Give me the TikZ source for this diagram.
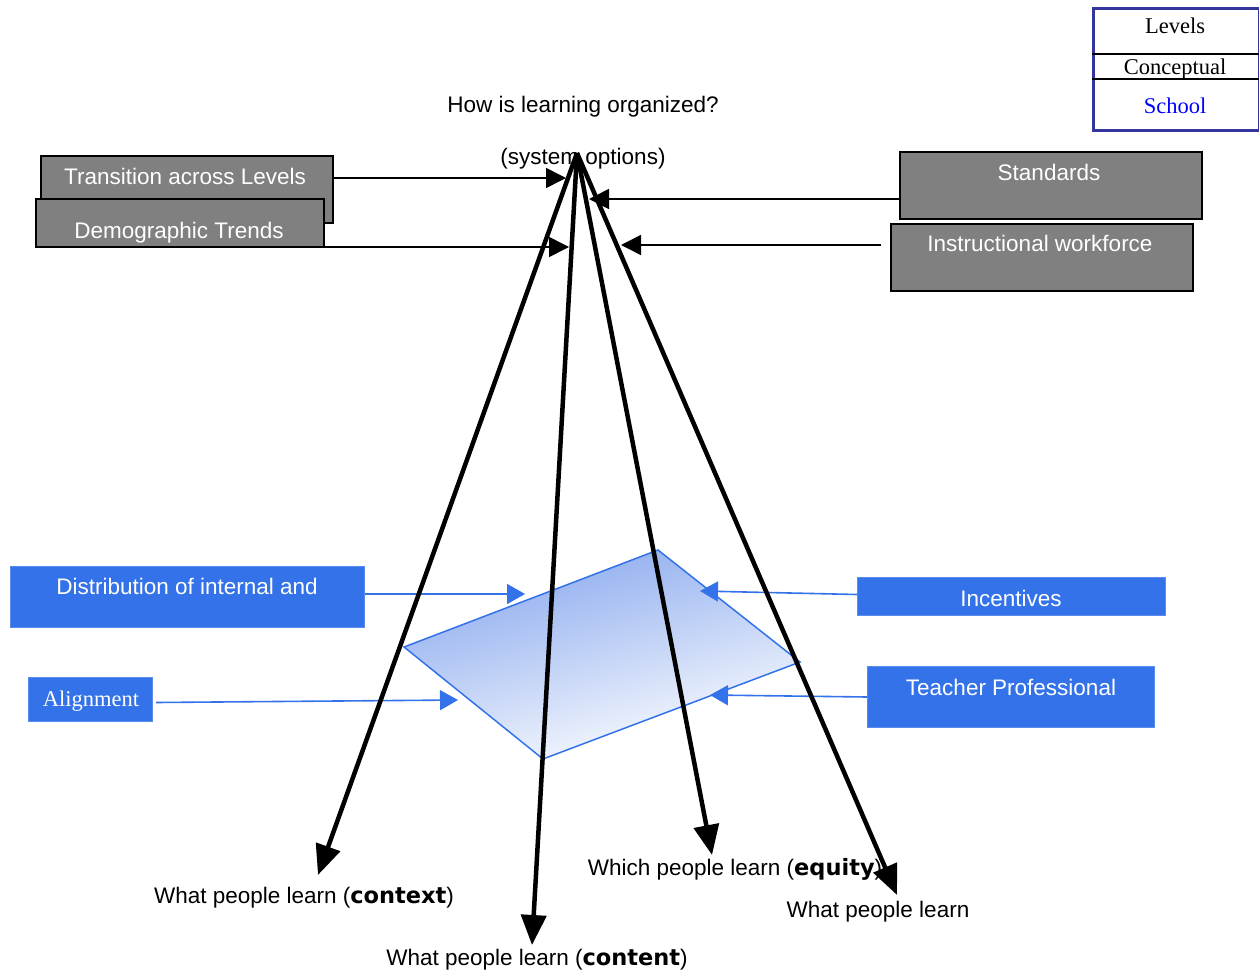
\documentclass[tikz,border=0pt]{standalone}
\usepackage{fontspec}
\setmainfont{Liberation Sans}
\newfontfamily\seriffont{Liberation Serif}
\newfontfamily\heavyfont{DejaVu Sans}
\usetikzlibrary{arrows.meta,calc}
\definecolor{boxgray}{HTML}{808080}
\definecolor{boxblue}{HTML}{3372E8}
\definecolor{boxedge}{HTML}{5A8CEE}
\definecolor{legblue}{HTML}{35359E}
\definecolor{gradtop}{HTML}{88A8EE}
\definecolor{gradmid}{HTML}{9CB5F0}
\definecolor{schoolblue}{HTML}{0000FF}
\newcommand{\hv}[1]{{\heavyfont\bfseries #1}}
\tikzset{
  txt/.style={font=\fontsize{22.5}{27}\selectfont, inner sep=0pt, anchor=base},
  stxt/.style={font=\seriffont\fontsize{22.5}{27}\selectfont, inner sep=0pt, anchor=base},
  wtxt/.style={txt, text=white},
  graybox/.style={draw=black, line width=2pt, fill=boxgray, anchor=north west, inner sep=0pt},
  bluebox/.style={draw=boxedge, line width=1pt, fill=boxblue, anchor=north west, inner sep=0pt},
  thinarr/.style={line width=1.6pt, -{Triangle[length=20pt,width=20pt]}},
  bluearr/.style={draw=boxblue, line width=1.6pt, -{Triangle[length=18pt,width=20pt]}, fill=boxblue},
  bigarr/.style={line width=4.5pt, -{Triangle[length=30pt,width=25pt]}},
}
\begin{document}
\begin{tikzpicture}[x=1pt,y=-1pt]
\useasboundingbox (0,0) rectangle (1259,977);

% legend
\node[draw=legblue, line width=3pt, fill=white, minimum width=166pt, minimum height=122pt, anchor=north west, inner sep=0pt] (legend) at (1091.5,6.5) {};
\coordinate (l1) at (1100,54);
\coordinate (l2) at (1100,79);
\draw[line width=1.8pt] (legend.west |- l1) -- (legend.east |- l1);
\draw[line width=1.8pt] (legend.west |- l2) -- (legend.east |- l2);
\node[stxt] (lev) at (1175,34) {Levels};
\node[stxt] (con) at (1175,74) {Conceptual};
\node[stxt, text=schoolblue] (sch) at (1175,113) {School};

% title
\node[txt] (q) at (583,112) {How is learning organized?};
\node[txt] (sys) at (583,164) {(system options)};

% gray boxes
\node[graybox, minimum width=292pt, minimum height=67pt] (trans) at (40,155) {};
\node[wtxt] (transT) at (185,184) {Transition across Levels};
\node[graybox, minimum width=288pt, minimum height=48pt] (demo) at (35,198) {};
\node[wtxt] (demoT) at (179,238) {Demographic Trends};
\node[graybox, minimum width=302pt, minimum height=67pt] (stand) at (899,151) {};
\node[wtxt] (standT) at (1049,180) {Standards};
\node[graybox, minimum width=302pt, minimum height=67pt] (instr) at (890,223) {};
\node[wtxt] (instrT) at (1040,251) {Instructional workforce};

% gray arrows
\coordinate (tT) at (566,178);
\coordinate (tD) at (569,247);
\coordinate (tS) at (589,199);
\coordinate (tI) at (621,245);
\coordinate (iS) at ([xshift=-9pt]instr.west);
\draw[thinarr] (trans.east |- tT) -- (tT);
\draw[thinarr] (demo.east |- tD) -- (tD);
\draw[thinarr] (stand.west |- tS) -- (tS);
\draw[thinarr] (iS |- tI) -- (tI);

% plane
\coordinate (p1) at (404,647);
\coordinate (p2) at (658,550);
\coordinate (p3) at (800,662);
\coordinate (p4) at (543,759);
\shade[top color=gradtop, middle color=gradmid, bottom color=white, shading angle=15] (p1) -- (p2) -- (p3) -- (p4) -- cycle;
\draw[boxblue, line width=1.5pt, line join=miter] (p1) -- (p2) -- (p3) -- (p4) -- cycle;

% blue boxes
\node[bluebox, minimum width=354pt, minimum height=61pt] (dist) at (10,566) {};
\node[wtxt] (distT) at (187,594) {Distribution of internal and};
\node[bluebox, minimum width=124pt, minimum height=44pt] (align) at (28,677) {};
\node[stxt, text=white] (alignT) at (91,706) {Alignment};
\node[bluebox, minimum width=308pt, minimum height=38pt] (incent) at (857,577) {};
\node[wtxt] (incentT) at (1011,606) {Incentives};
\node[bluebox, minimum width=287pt, minimum height=61pt] (teach) at (867,666) {};
\node[wtxt] (teachT) at (1011,695) {Teacher Professional};

% blue arrows
\coordinate (bD) at (525,594);
\coordinate (bA) at (458,700);
\coordinate (bI) at (700,591);
\coordinate (bT) at (710,695);
\draw[bluearr] (dist.east |- bD) -- (bD);
\draw[bluearr] ([xshift=3pt,yshift=-3pt]align.east) -- (bA);
\draw[bluearr] ([yshift=2pt]incent.west) -- (bI);
\draw[bluearr] (teach.west) -- (bT);

% outcome labels
\node[txt] (ctx) at (304,903) {What people learn (\hv{context})};
\node[txt] (cnt) at (537,965) {What people learn (\hv{content})};
\node[txt] (eq) at (735,875) {Which people learn (\hv{equity})};
\node[txt] (wpl) at (878,917) {What people learn};

% main arrows
\coordinate (apex) at (577,153);
\coordinate (eCtx) at (318,875);
\coordinate (eCnt) at (532,945);
\coordinate (eEq) at (712,855);
\coordinate (eW) at (897,895);
\draw[bigarr] (apex) -- (eCtx);
\draw[bigarr] (apex) -- (eCnt);
\draw[bigarr] (apex) -- (eEq);
\draw[bigarr] (apex) -- (eW);
\end{tikzpicture}
\end{document}
